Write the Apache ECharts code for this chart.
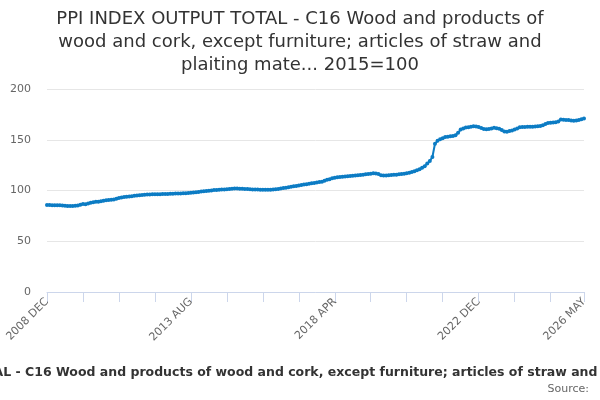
<!DOCTYPE html>
<html lang="en">
  <head>
    <meta charset="UTF-8" />
    <title>PPI index output total - C16</title>
    <style>
      html,
      body {
        margin: 0;
        padding: 0;
        background: #fff;
      }
      #main {
        width: 600px;
        height: 400px;
      }
    </style>
  </head>
  <body>
    <div id="main"></div>
  </body>
  <script src="https://cdn.jsdelivr.net/npm/echarts@6.0.0/dist/echarts.min.js"></script>
  <script>
    /* globals echarts */

    var monthNames = ["JAN", "FEB", "MAR", "APR", "MAY", "JUN", "JUL", "AUG", "SEP", "OCT", "NOV", "DEC"];
    var firstMonth = "2008 DEC";
    var lastMonth = "2026 MAY";
    var tickLabels = ["2008 DEC", "2013 AUG", "2018 APR", "2022 DEC", "2026 MAY"];
    var tickStep = 14; // months between small ticks on the x axis
    var yTicks = [0, 50, 100, 150, 200];

    var seriesName =
      "PPI INDEX OUTPUT TOTAL - C16 Wood and products of wood and cork, except furniture; articles of straw and plaiting materials 2015=100";

    // index values, one per month
    var values2008 = [85.7];
    var values2009 = [85.6, 85.5, 85.5, 85.4, 85.4, 85.2, 85.0, 84.8, 84.7, 84.8, 85.0, 85.3];
    var values2010 = [85.9, 86.8, 86.5, 87.2, 88.0, 88.5, 88.8, 89.0, 89.4, 89.8, 90.3, 90.6];
    var values2011 = [90.8, 91.2, 91.8, 92.6, 93.2, 93.5, 93.8, 94.1, 94.4, 94.8, 95.0, 95.3];
    var values2012 = [95.5, 95.8, 96.0, 96.1, 96.2, 96.3, 96.3, 96.4, 96.5, 96.5, 96.6, 96.7];
    var values2013 = [96.8, 97.0, 97.0, 97.1, 97.2, 97.4, 97.5, 97.7, 98.0, 98.3, 98.6, 98.9];
    var values2014 = [99.2, 99.5, 99.8, 100.1, 100.4, 100.6, 100.8, 101.0, 101.0, 101.3, 101.6, 101.8];
    var values2015 = [102.0, 101.9, 101.8, 101.7, 101.6, 101.5, 101.3, 101.1, 101.0, 100.9, 100.8, 100.8];
    var values2016 = [100.7, 100.8, 100.8, 101.0, 101.3, 101.6, 102.0, 102.4, 102.8, 103.3, 103.8, 104.1];
    var values2017 = [104.5, 104.9, 105.3, 105.8, 106.2, 106.6, 107.1, 107.4, 107.8, 108.3, 108.6, 109.5];
    var values2018 = [110.6, 111.2, 112.0, 112.6, 113.0, 113.3, 113.5, 113.7, 114.0, 114.3, 114.5, 114.7];
    var values2019 = [115.0, 115.3, 115.6, 115.9, 116.2, 116.5, 116.9, 116.8, 116.3, 115.0, 114.8, 114.9];
    var values2020 = [115.0, 115.2, 115.4, 115.6, 115.9, 116.3, 116.6, 117.0, 117.6, 118.3, 119.0, 120.0];
    var values2021 = [121.0, 122.3, 124.0, 126.5, 129.0, 133.0, 146.0, 149.0, 150.5, 151.6, 152.6, 153.0];
    var values2022 = [153.5, 153.8, 154.5, 157.0, 160.0, 161.2, 162.0, 162.4, 162.8, 163.2, 163.0, 162.5];
    var values2023 = [161.5, 160.6, 160.4, 160.6, 161.0, 161.9, 161.4, 160.8, 159.6, 158.2, 158.0, 158.6];
    var values2024 = [159.2, 160.0, 161.0, 162.2, 162.5, 162.6, 162.7, 162.9, 162.9, 163.0, 163.2, 163.5];
    var values2025 = [164.2, 165.4, 166.5, 166.8, 167.0, 167.3, 168.0, 170.0, 169.6, 169.4, 169.5, 169.0];
    var values2026 = [168.8, 169.0, 169.5, 170.2, 171.0];

    function buildMonths(from, to) {
      var y = parseInt(from.split(" ")[0], 10);
      var m = monthNames.indexOf(from.split(" ")[1]);
      var out = [];
      while (true) {
        var label = y + " " + monthNames[m];
        out.push(label);
        if (label === to) break;
        m++;
        if (m === 12) {
          m = 0;
          y++;
        }
      }
      return out;
    }

    var months = buildMonths(firstMonth, lastMonth);
    var values = [].concat(
      values2008, values2009, values2010, values2011, values2012, values2013,
      values2014, values2015, values2016, values2017, values2018, values2019,
      values2020, values2021, values2022, values2023, values2024, values2025, values2026
    );

    var font = "DejaVu Sans";
    var chart = echarts.init(document.getElementById("main"), null, { renderer: "canvas" });

    var option = {
      animation: false,
      title: [
        {
          text:
            "PPI INDEX OUTPUT TOTAL - C16 Wood and products of\n" +
            "wood and cork, except furniture; articles of straw and\n" +
            "plaiting mate... 2015=100",
          left: "center",
          top: 3,
          textStyle: {
            fontFamily: font,
            fontSize: 18,
            fontWeight: "normal",
            lineHeight: 23,
            color: "#333333",
          },
        },
        {
          text: "Source:",
          right: 6,
          top: 379,
          textStyle: {
            fontFamily: font,
            fontSize: 11,
            fontWeight: "normal",
            color: "#666666",
          },
        },
      ],
      // the legend is wider than the page, as in the original, so it is cut at both sides
      legend: {
        data: [seriesName],
        left: -180,
        top: 361,
        icon: "none",
        itemWidth: 0,
        itemGap: 0,
        textStyle: {
          fontFamily: font,
          fontSize: 12.5,
          fontWeight: "bold",
          color: "#333333",
        },
      },
      tooltip: {
        trigger: "axis",
      },
      grid: {
        left: 47,
        right: 16,
        top: 89,
        bottom: 108,
        containLabel: false,
        outerBoundsMode: "none",
      },
      xAxis: {
        type: "category",
        data: months,
        boundaryGap: false,
        axisLine: { lineStyle: { color: "#ccd6eb", width: 1 } },
        axisTick: {
          length: 10,
          lineStyle: { color: "#ccd6eb" },
          interval: function(i) {
            return i % tickStep === 0 || i === months.length - 1;
          },
        },
        axisLabel: {
          rotate: 45,
          margin: 8,
          fontFamily: font,
          fontSize: 11,
          color: "#666666",
          interval: function(i, v) {
            return tickLabels.indexOf(v) !== -1;
          },
        },
        splitLine: { show: false },
      },
      yAxis: {
        type: "value",
        min: yTicks[0],
        max: yTicks[yTicks.length - 1],
        interval: yTicks[1] - yTicks[0],
        axisLine: { show: false },
        axisTick: { show: false },
        axisLabel: {
          margin: 16,
          fontFamily: font,
          fontSize: 11,
          color: "#666666",
        },
        splitLine: { lineStyle: { color: "#e6e6e6", width: 1 } },
      },
      series: [
        {
          name: seriesName,
          type: "line",
          data: values,
          color: "#0c7cc4",
          lineStyle: { width: 2 },
          symbol: "circle",
          symbolSize: 4,
          showAllSymbol: true,
        },
      ],
    };

    chart.setOption(option);
  </script>
</html>
